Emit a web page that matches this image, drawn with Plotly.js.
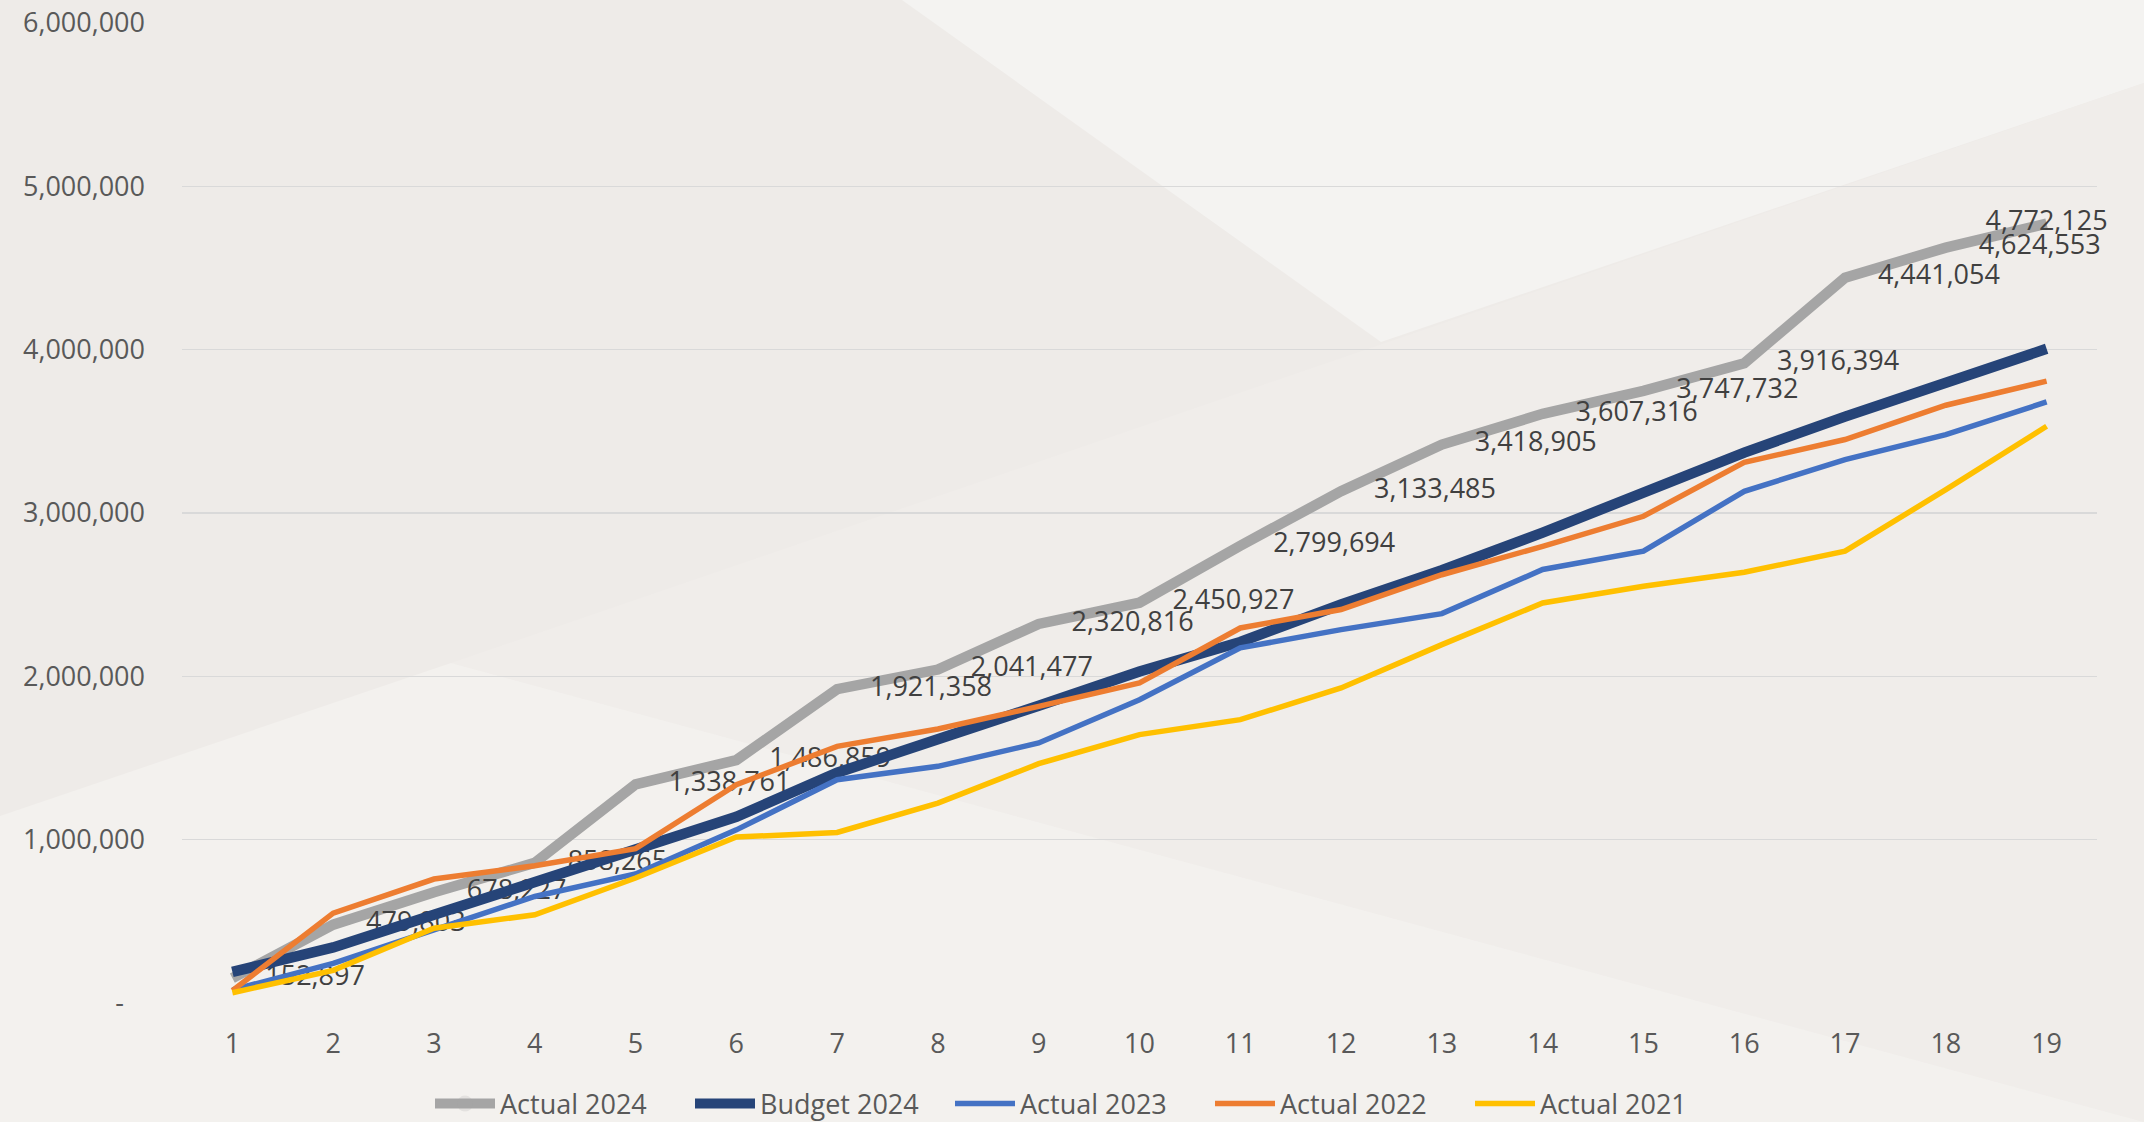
<!DOCTYPE html>
<html>
<head>
<meta charset="utf-8">
<script src="https://cdn.plot.ly/plotly-3.0.1.min.js"></script>
<style>
  html, body { margin: 0; padding: 0; background: #EEEBE8; }
  #chart { width: 2144px; height: 1122px; }
</style>
</head>
<body>
<div id="chart"></div>
<script>
// ---- data ----
const periods = [1, 2, 3, 4, 5, 6, 7, 8, 9, 10, 11, 12, 13, 14, 15, 16, 17, 18, 19];
const actual2024 = [152897, 479803, 678227, 858265, 1338761, 1486859, 1921358, 2041477, 2320816, 2450927, 2799694, 3133485, 3418905, 3607316, 3747732, 3916394, 4441054, 4624553, 4772125];
const budget2024 = [190000, 340000, 540000, 740000, 950000, 1140000, 1410000, 1610000, 1820000, 2030000, 2210000, 2440000, 2650000, 2880000, 3120000, 3370000, 3590000, 3800000, 4005000];
const actual2023 = [80000, 243000, 448000, 652000, 790000, 1060000, 1367000, 1449000, 1592000, 1857000, 2174000, 2286000, 2384000, 2654000, 2766000, 3133000, 3327000, 3480000, 3680000];
const actual2022 = [76000, 550000, 759000, 840000, 945000, 1337000, 1571000, 1678000, 1816000, 1960000, 2296000, 2409000, 2622000, 2796000, 2980000, 3310000, 3450000, 3660000, 3807000];
const actual2021 = [63000, 200000, 458000, 540000, 765000, 1016000, 1044000, 1224000, 1465000, 1643000, 1735000, 1929000, 2194000, 2449000, 2551000, 2637000, 2766000, 3143000, 3531000];
const seriesNames = ["Actual 2024", "Budget 2024", "Actual 2023", "Actual 2022", "Actual 2021"];
const yTickVals = [0, 1000000, 2000000, 3000000, 4000000, 5000000, 6000000];
const yTickText = ["-\u00a0\u00a0\u00a0", "1,000,000", "2,000,000", "3,000,000", "4,000,000", "5,000,000", "6,000,000"];

// ---- layout helpers ----
const W = 2144, H = 1122;
const M = { l: 182, r: 47, t: 23, b: 119 };
const pw = W - M.l - M.r, ph = H - M.t - M.b;
function P(X, Y) { return ((X - M.l) / pw).toFixed(5) + ',' + ((H - M.b - Y) / ph).toFixed(5); }
function poly(pts) { return 'M' + pts.map(p => P(p[0], p[1])).join('L') + 'Z'; }

const FONT = "'Open Sans', sans-serif";

const labelPos = actual2024.map((v, i) => i === actual2024.length - 1 ? 'middle center' : 'middle right');

const traces = [
  {
    x: periods, y: actual2024, name: seriesNames[0], type: 'scatter',
    mode: 'lines+markers+text',
    line: { color: '#A5A5A5', width: 10.5 },
    marker: { size: 51, opacity: 0, color: '#A5A5A5' },
    texttemplate: '%{y:,}', textposition: labelPos,
    textfont: { family: FONT, size: 27, color: '#404040' },
    cliponaxis: false, hoverinfo: 'skip'
  },
  { x: periods, y: budget2024, name: seriesNames[1], type: 'scatter', mode: 'lines',
    line: { color: '#264478', width: 10.5 }, hoverinfo: 'skip' },
  { x: periods, y: actual2023, name: seriesNames[2], type: 'scatter', mode: 'lines',
    line: { color: '#4472C4', width: 5.5 }, hoverinfo: 'skip' },
  { x: periods, y: actual2022, name: seriesNames[3], type: 'scatter', mode: 'lines',
    line: { color: '#ED7D31', width: 5.5 }, hoverinfo: 'skip' },
  { x: periods, y: actual2021, name: seriesNames[4], type: 'scatter', mode: 'lines',
    line: { color: '#FFC000', width: 5.5 }, hoverinfo: 'skip' }
];

const layout = {
  width: W, height: H,
  margin: M,
  paper_bgcolor: '#EEEBE8',
  plot_bgcolor: 'rgba(0,0,0,0)',
  font: { family: FONT, size: 27, color: '#595959' },
  showlegend: true,
  legend: {
    orientation: 'h', xref: 'container', yref: 'container',
    x: 430 / W, xanchor: 'left', y: 0.016, yanchor: 'middle',
    itemwidth: 60, entrywidth: 185, entrywidthmode: 'pixels',
    font: { family: FONT, size: 27, color: '#595959' },
    bgcolor: 'rgba(0,0,0,0)', traceorder: 'normal'
  },
  xaxis: {
    range: [0.5, 19.5], tickmode: 'array', tickvals: periods,
    ticktext: periods.map(String),
    showgrid: false, zeroline: false, showline: false, ticks: '',
    ticklabelstandoff: 22,
    tickfont: { family: FONT, size: 27, color: '#595959' }
  },
  yaxis: {
    range: [0, 6000000], tickmode: 'array', tickvals: yTickVals, ticktext: yTickText,
    showgrid: true, gridcolor: '#D9D9D9', gridwidth: 1.5,
    zeroline: false, showline: false, ticks: '',
    ticklabelstandoff: 36,
    tickfont: { family: FONT, size: 27, color: '#595959' }
  },
  shapes: [
    { type: 'path', xref: 'paper', yref: 'paper', layer: 'below', line: { width: 0 },
      fillcolor: '#F4F3F1', path: poly([[902, 0], [2144, 0], [2144, 83], [1381, 342]]) },
    { type: 'path', xref: 'paper', yref: 'paper', layer: 'below', line: { width: 0 },
      fillcolor: '#F0EDEA', path: poly([[451, 663], [2144, 83], [2144, 1122]]) },
    { type: 'path', xref: 'paper', yref: 'paper', layer: 'below', line: { width: 0 },
      fillcolor: '#F3F1EE', path: poly([[0, 816], [451, 663], [2144, 1122], [0, 1122]]) }
  ]
};

Plotly.newPlot('chart', traces, layout, { displayModeBar: false, staticPlot: true });
</script>
</body>
</html>
